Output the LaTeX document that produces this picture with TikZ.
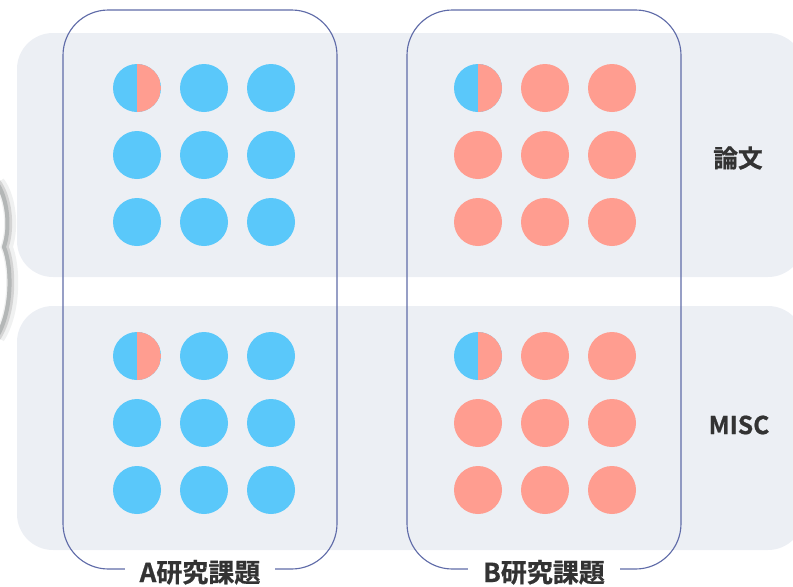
\documentclass[tikz,border=0pt]{standalone}
\usepackage{fontspec}
\newfontfamily\cjkfont{Noto Sans CJK JP}[BoldFont={* Bold}, BoldFeatures={FakeBold=0.8}]
\usetikzlibrary{positioning}

\definecolor{dotblue}{HTML}{5AC8FA}
\definecolor{dotred}{HTML}{FF9D90}
\definecolor{bandgray}{HTML}{ECEFF4}
\definecolor{framecol}{HTML}{5F6BA8}
\definecolor{labelgray}{HTML}{333333}
\definecolor{edgegray}{HTML}{B4B7B7}

\tikzset{
  dot/.style={circle, fill=#1, minimum size=36pt, inner sep=0pt},
  dot/.default=dotblue,
  splitdot/.style={dot=dotblue, path picture={
      \fill[dotred] (path picture bounding box.south) rectangle (path picture bounding box.north east);}},
  topic/.style={draw=framecol, line width=0.85pt, rounded corners=34pt,
      minimum width=205.5pt, minimum height=419.25pt, inner sep=0pt},
  topiclabel/.style={fill=white, inner xsep=11pt, inner ysep=1pt, text=labelgray,
      font=\cjkfont\bfseries\fontsize{19.5}{19.5}\selectfont},
  rowlabel/.style={text=labelgray, font=\cjkfont\bfseries\fontsize{18.5}{18.5}\selectfont}
}

\begin{document}
\begin{tikzpicture}[x=0.75pt, y=-0.75pt]
    \useasboundingbox (0,0) rectangle (793,586);

    % Grey edge on the left (cut off)
    \draw[edgegray, line width=9pt, opacity=0.2, xshift=2pt]
        (-4,182) .. controls (7,196) and (11,226) .. (4,247) .. controls (12,266) and (13,312) .. (-4,338);
    \draw[gray, line width=5pt, opacity=0.25, xshift=1pt]
        (-4,182) .. controls (7,196) and (11,226) .. (4,247) .. controls (12,266) and (13,312) .. (-4,338);
    \draw[edgegray, line width=3pt]
        (-4,182) .. controls (7,196) and (11,226) .. (4,247) .. controls (12,266) and (13,312) .. (-4,338);

    % Background bands
    \fill[bandgray, rounded corners=27pt] (17,33) rectangle (804,277);   % 論文
    \fill[bandgray, rounded corners=27pt] (17,306) rectangle (804,550);  % MISC

    % Research topic frames
    \node[topic] (topicA) at (200,289.5) {};
    \node[topic] (topicB) at (544,289.5) {};

    % Frame labels
    \node[topiclabel, yshift=-2pt] (labelA) at (topicA.south) {A研究課題};
    \node[topiclabel, yshift=-2pt] (labelB) at (topicB.south) {B研究課題};

    % Row labels
    \node[rowlabel] (paper) at (738,158) {論文};
    \node[rowlabel] (misc) at (739,425) {MISC};

    % Dot groups
    \foreach \gx/\gy/\g/\col in {137/88/a/dotblue, 478/88/b/dotred, 137/356/c/dotblue, 478/356/d/dotred} {
        \node[splitdot] (\g11) at (\gx,\gy) {};
        \foreach \i/\j in {1/2,1/3,2/1,2/2,2/3,3/1,3/2,3/3}
            \node[dot=\col] (\g\i\j) at (\gx+67*\j-67, \gy+67*\i-67) {};
    }
\end{tikzpicture}
\end{document}
